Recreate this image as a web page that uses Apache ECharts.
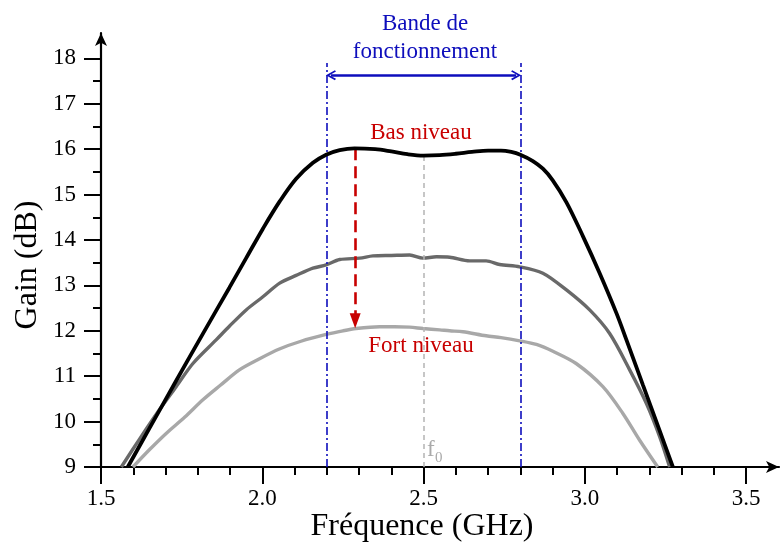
<!DOCTYPE html>
<html>
<head>
<meta charset="utf-8">
<script src="https://cdn.jsdelivr.net/npm/echarts@6/dist/echarts.min.js"></script>
<style>html,body{margin:0;padding:0;background:#fff}#c{width:781px;height:548px}</style>
</head>
<body>
<div id="c"></div>
<script>
// ---- data ----
const freqBas = [1.583,1.650,1.733,1.817,1.898,1.950,2.002,2.054,2.105,2.157,2.198,2.240,2.286,2.350,2.400,2.450,2.500,2.550,2.600,2.650,2.700,2.740,2.772,2.800,2.839,2.870,2.900,2.943,2.995,3.046,3.098,3.129,3.180,3.230,3.273];
const gainBas = [9.0,9.85,10.9,11.95,12.95,13.6,14.25,14.85,15.35,15.7,15.88,15.98,16.02,16.0,15.95,15.89,15.86,15.87,15.9,15.94,15.97,15.97,15.94,15.88,15.74,15.57,15.32,14.83,14.07,13.27,12.39,11.8,10.81,9.84,9.0];

const freqMoy = [1.563,1.620,1.681,1.733,1.785,1.857,1.898,1.950,2.002,2.054,2.105,2.157,2.198,2.240,2.302,2.343,2.400,2.457,2.498,2.540,2.581,2.643,2.694,2.736,2.798,2.870,2.943,3.015,3.077,3.139,3.191,3.232,3.263];
const gainMoy = [9.0,9.62,10.26,10.77,11.28,11.8,12.1,12.46,12.75,13.05,13.22,13.38,13.45,13.57,13.6,13.65,13.66,13.67,13.6,13.63,13.62,13.54,13.54,13.46,13.41,13.27,12.9,12.46,11.94,11.14,10.4,9.67,9.0];

const freqFort = [1.599,1.650,1.702,1.760,1.816,1.870,1.929,1.990,2.053,2.120,2.198,2.250,2.291,2.364,2.410,2.457,2.498,2.550,2.581,2.622,2.694,2.740,2.798,2.850,2.901,2.973,3.056,3.118,3.170,3.226];
const gainFort = [9.0,9.38,9.74,10.1,10.48,10.8,11.14,11.38,11.6,11.77,11.92,12.0,12.05,12.09,12.09,12.08,12.05,12.02,12.0,11.98,11.89,11.85,11.78,11.7,11.55,11.28,10.77,10.18,9.59,9.0];

const xMajorTicks = [1.5,2.0,2.5,3.0,3.5];
const xMinorTicks = [1.5,1.6,1.7,1.8,1.9,2.0,2.1,2.2,2.3,2.4,2.5,2.6,2.7,2.8,2.9,3.0,3.1,3.2,3.3,3.4,3.5];
const yMajorTicks = [9,10,11,12,13,14,15,16,17,18];
const yMinorTicks = [9,9.5,10,10.5,11,11.5,12,12.5,13,13.5,14,14.5,15,15.5,16,16.5,17,17.5,18];

// annotation values (data units)
const bandLow = 2.2, bandHigh = 2.8, bandTop = 17.9, bandArrowGain = 17.63;
const arrowFreq = 2.288, arrowFrom = 16.02, arrowTo = 12.22;
const f0 = 2.5, f0Top = 15.83;

const X_MIN = 1.5, X_MAX = 3.602, Y_MIN = 9, Y_MAX = 18.56;
const FONT = "'Liberation Serif','Times New Roman',serif";
const BLUE = '#0e0ebc', RED = '#c80000';

function pairs(xs, ys){ return xs.map((x,i)=>[x, ys[i]]); }

const axisCommon = {
  type: 'value', min: X_MIN, max: X_MAX, interval: 0.5,
  splitLine: {show:false}
};

const chevron = 'path://M5,0 L10,8.5 L8.6,9.5 L5,3.2 L1.4,9.5 L0,8.5 Z';

const option = {
  animation: false,
  backgroundColor: '#fff',
  grid: {left: 101, right: 2, top: 33, bottom: 81, containLabel: false, outerBoundsMode: 'none'},
  xAxis: [
    Object.assign({}, axisCommon, {
      position: 'bottom',
      axisLine: {show: true, symbol: ['none','arrow'], symbolSize: [9,13], lineStyle: {color:'#000', width: 2.2}},
      axisTick: {show: true, customValues: xMinorTicks, length: 8, lineStyle: {color:'#000', width: 2}},
      axisLabel: {show: false}
    }),
    Object.assign({}, axisCommon, {
      position: 'bottom',
      axisLine: {show: false},
      axisTick: {show: true, customValues: xMajorTicks, length: 17, lineStyle: {color:'#000', width: 2}},
      axisLabel: {show: true, customValues: xMajorTicks, margin: 20, color: '#000', fontSize: 23, fontFamily: FONT,
                  formatter: v => v.toFixed(1)}
    })
  ],
  yAxis: [
    {
      type: 'value', position: 'left', min: Y_MIN, max: Y_MAX, interval: 1,
      splitLine: {show:false},
      axisLine: {show: true, symbol: ['none','arrow'], symbolSize: [9,13], lineStyle: {color:'#000', width: 2.2}},
      axisTick: {show: true, customValues: yMinorTicks, length: 8, lineStyle: {color:'#000', width: 2}},
      axisLabel: {show: true, customValues: yMajorTicks, margin: 25, color:'#000', fontSize: 23, fontFamily: FONT}
    },
    {
      type: 'value', position: 'left', min: Y_MIN, max: Y_MAX, interval: 1,
      splitLine: {show:false},
      axisLine: {show: false},
      axisTick: {show: true, customValues: yMajorTicks, length: 17, lineStyle: {color:'#000', width: 2}},
      axisLabel: {show: false}
    }
  ],
  series: [
    {
      name: 'Fort niveau', type: 'line', data: pairs(freqFort, gainFort), smooth: 0.3,
      showSymbol: false, lineStyle: {color: '#a8a8a8', width: 3.4}, z: 3
    },
    {
      name: 'Moyen', type: 'line', data: pairs(freqMoy, gainMoy), smooth: 0.3,
      showSymbol: false, lineStyle: {color: '#696969', width: 3.4}, z: 4
    },
    {
      name: 'Bas niveau', type: 'line', data: pairs(freqBas, gainBas), smooth: 0.35,
      showSymbol: false, lineStyle: {color: '#000', width: 3.8}, z: 5
    },
    {
      type: 'line', data: [], silent: true, z: 2,
      markLine: {
        silent: true, animation: false, symbol: ['none','none'], label: {show:false},
        data: [
          [{coord:[bandLow, Y_MIN], lineStyle:{color:BLUE, width:1.6, type:[8,3,2,3]}}, {coord:[bandLow, bandTop]}],
          [{coord:[bandHigh, Y_MIN], lineStyle:{color:BLUE, width:1.6, type:[8,3,2,3]}}, {coord:[bandHigh, bandTop]}],
          [{coord:[f0, Y_MIN], lineStyle:{color:'#b4b4b4', width:1.5, type:[5,4]}}, {coord:[f0, f0Top]}]
        ]
      }
    },
    {
      type: 'line', data: [], silent: true, z: 6,
      markLine: {
        silent: true, animation: false, label: {show:false},
        data: [
          [{coord:[bandLow + 0.013, bandArrowGain], symbol: chevron, symbolSize:[10,10],
            lineStyle:{color:BLUE, width:2.5, type:'solid'}},
           {coord:[bandHigh - 0.013, bandArrowGain], symbol: chevron, symbolSize:[10,10]}],
          [{coord:[arrowFreq, arrowFrom], symbol:'none',
            lineStyle:{color:RED, width:2.6, type:[12,6]}},
           {coord:[arrowFreq, arrowTo], symbol:'triangle', symbolSize:[11,15]}]
        ]
      }
    }
  ],
  graphic: [
    {type:'text', x: 425, y: 24, style:{text:'Bande de', fill:BLUE, font:'23px '+FONT, textAlign:'center', textVerticalAlign:'middle'}},
    {type:'text', x: 425, y: 52, style:{text:'fonctionnement', fill:BLUE, font:'23px '+FONT, textAlign:'center', textVerticalAlign:'middle'}},
    {type:'text', x: 421, y: 133, style:{text:'Bas niveau', fill:RED, font:'23px '+FONT, textAlign:'center', textVerticalAlign:'middle'}},
    {type:'text', x: 421, y: 346, style:{text:'Fort niveau', fill:RED, font:'23px '+FONT, textAlign:'center', textVerticalAlign:'middle'}},
    {type:'text', x: 427, y: 461, style:{text:'f', fill:'#aaaaaa', font:'23px '+FONT, textAlign:'left', textVerticalAlign:'bottom'}},
    {type:'text', x: 435, y: 466, style:{text:'0', fill:'#aaaaaa', font:'15px '+FONT, textAlign:'left', textVerticalAlign:'bottom'}},
    {type:'text', x: 422, y: 527, style:{text:'Fréquence (GHz)', fill:'#000', font:'32px '+FONT, textAlign:'center', textVerticalAlign:'middle'}},
    {type:'text', x: 28, y: 265, rotation: Math.PI/2, style:{text:'Gain (dB)', fill:'#000', font:'32px '+FONT, textAlign:'center', textVerticalAlign:'middle'}}
  ]
};

const chart = echarts.init(document.getElementById('c'), null, {renderer:'canvas'});
chart.setOption(option);
</script>
</body>
</html>
